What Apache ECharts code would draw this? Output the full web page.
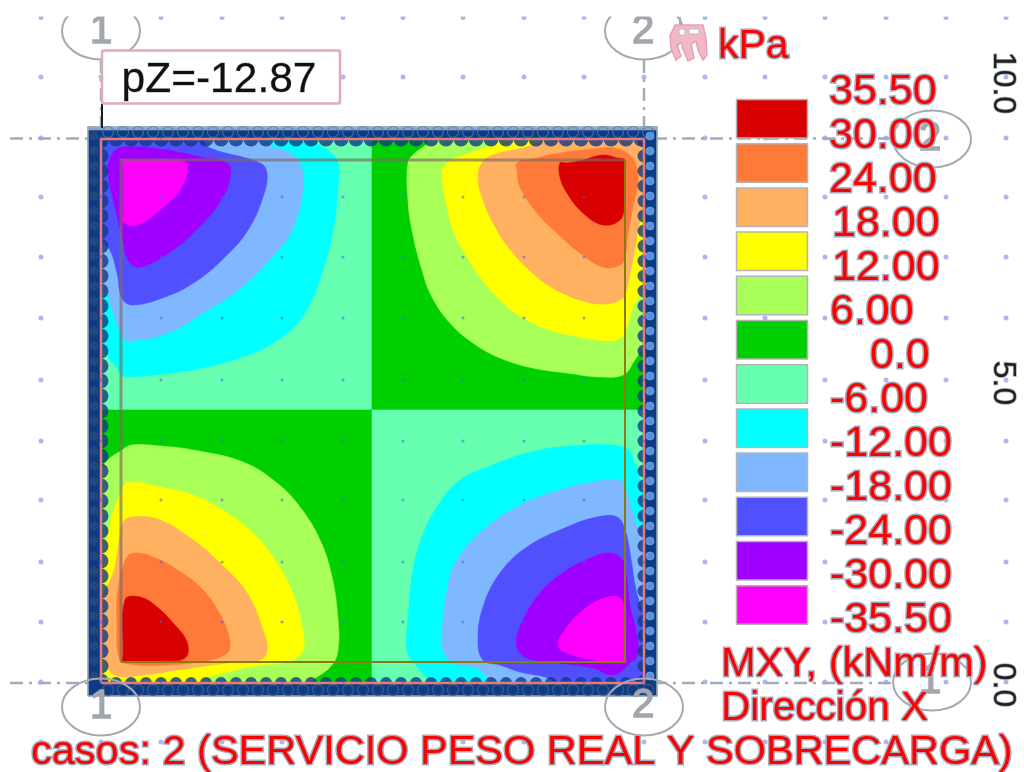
<!DOCTYPE html>
<html><head><meta charset="utf-8">
<script src="https://cdn.jsdelivr.net/npm/echarts@6/dist/echarts.min.js"></script>
<style>html,body{margin:0;padding:0;background:#fff}#c{width:1024px;height:772px;filter:blur(0.5px)}</style>
</head><body><div id="c"></div>
<script>
// Slab plan, in plot units along each axis (54.3 units = 1 m).
const levelLabels = ['35.50','30.00','24.00','18.00','12.00','6.00','0.0','-6.00','-12.00','-18.00','-24.00','-30.00','-35.50'];
const levelColors = ['#d80000','#ff7a38','#ffb060','#ffff00','#a8ff58','#00d000','#66ffb0','#00ffff','#80b8ff','#5050ff','#a000ff','#ff00ff'];
const legendTitle = 'kPa';
const resultTitle = ['MXY, (kNm/m)','Dirección X'];
const caseTitle = 'casos: 2 (SERVICIO PESO REAL Y SOBRECARGA)';
const probeLabel = 'pZ=-12.87';
const axisTicks = ['10.0','5.0','0.0'];

// Bands: index into levelColors
const quadrantTL = [[0,273],[271,273],[271,544],[0,544]];
const quadrantTR = [[271,273],[543,273],[543,544],[271,544]];
const quadrantBL = [[0,0],[271,0],[271,273],[0,273]];
const quadrantBR = [[271,0],[543,0],[543,273],[271,273]];

const trPos6 = [[327,544],[327,540],[314,530],[307,520],[307,483],[311,453],[321,413],[331,386],[349,360],[372,340],[399,325],[432,315],[466,310],[499,306],[522,308],[532,320],[543,343],[543,532],[543,544],[532,544]];
const trPos12 = [[404,544],[389,537],[369,530],[347,521],[341,510],[346,476],[352,453],[362,433],[379,406],[399,383],[422,365],[449,353],[479,346],[509,342],[519,345],[524,350],[531,373],[537,385],[543,393],[543,532],[543,544],[532,544]];
const trPos18 = [[459,544],[439,540],[422,535],[392,528],[381,520],[377,506],[382,483],[396,453],[412,430],[436,406],[459,391],[486,381],[506,379],[519,383],[524,388],[529,410],[534,436],[537,453],[543,483],[543,532],[543,544],[532,544]];
const trPos24 = [[416,513],[419,496],[436,470],[456,450],[479,430],[502,416],[519,418],[524,426],[527,450],[532,476],[537,503],[534,520],[526,530],[512,535],[492,534],[459,530],[431,524],[416,520]];
const trPos30 = [[459,520],[459,506],[466,490],[482,470],[502,458],[519,463],[523,476],[524,515],[524,523],[516,525],[502,528],[482,523],[466,520]];

const blPos6 = [[0,208],[4,220],[21,233],[31,238],[59,237],[92,233],[142,221],[176,200],[199,176],[219,143],[231,106],[237,63],[237,33],[231,18],[216,6],[204,0],[12,0],[0,0],[0,12]];
const blPos12 = [[0,133],[6,146],[12,170],[21,193],[27,201],[59,196],[92,188],[126,170],[152,150],[172,126],[189,96],[199,66],[202,33],[186,21],[159,18],[126,11],[106,5],[94,0],[12,0],[0,0],[0,12]];
const blPos18 = [[0,83],[7,98],[14,116],[22,160],[31,166],[59,163],[92,143],[119,120],[146,90],[162,53],[166,33],[159,23],[126,20],[76,13],[42,8],[14,8],[4,23],[0,43]];
const blPos24 = [[36,130],[26,126],[17,93],[16,56],[17,30],[24,20],[66,18],[109,23],[126,30],[129,40],[122,63],[102,93],[72,116],[52,126]];
const blPos30 = [[24,83],[39,86],[56,76],[72,60],[86,41],[84,25],[59,22],[30,21],[22,21],[22,30]];

const brNeg12 = [[524,236],[459,236],[419,228],[392,218],[359,203],[336,176],[321,146],[312,113],[307,63],[306,33],[317,15],[326,5],[328,0],[531,0],[543,0],[543,12],[543,193],[539,205],[532,223]];
const brNeg18 = [[519,203],[492,201],[452,191],[416,176],[382,153],[356,123],[346,93],[341,50],[342,33],[352,20],[376,15],[386,5],[388,0],[531,0],[543,0],[543,12],[543,153],[537,156],[531,173],[524,196]];
const brNeg24 = [[516,166],[496,166],[466,156],[426,136],[399,110],[382,76],[377,43],[382,23],[399,18],[419,11],[444,6],[459,0],[531,0],[543,0],[543,12],[543,63],[535,93],[529,130],[524,153]];
const brNeg30 = [[507,130],[492,126],[466,113],[439,90],[419,56],[416,36],[426,25],[459,20],[492,15],[512,8],[529,20],[537,30],[534,56],[529,76],[524,116],[519,126]];
const brNeg35 = [[507,86],[519,85],[524,73],[524,30],[524,21],[514,21],[492,23],[466,30],[457,38],[466,56],[486,76]];

const tlNeg12 = [[0,532],[0,544],[12,544],[211,544],[216,540],[236,523],[237,496],[232,453],[221,410],[204,370],[181,346],[147,328],[101,315],[61,309],[22,307],[16,315],[7,326],[0,340]];
const tlNeg18 = [[154,544],[169,537],[189,530],[199,520],[202,496],[191,453],[171,426],[141,396],[107,373],[67,350],[27,342],[22,346],[17,356],[9,380],[6,390],[0,398],[0,532],[0,544],[12,544]];
const tlNeg24 = [[99,544],[109,535],[159,520],[166,510],[162,486],[147,453],[124,426],[94,401],[64,386],[31,378],[21,385],[16,410],[9,433],[0,443],[0,532],[0,544],[12,544]];
const tlNeg30 = [[22,536],[66,533],[99,526],[126,520],[129,506],[122,486],[102,460],[72,433],[39,416],[27,423],[22,443],[14,476],[7,513],[12,530]];
const tlNeg35 = [[22,515],[22,523],[30,523],[84,521],[86,510],[79,493],[59,473],[36,458],[22,461],[22,470]];

const baseRegions = [[6,quadrantTL],[5,quadrantTR],[5,quadrantBL],[6,quadrantBR]];
const contourRegions = [
  [4,trPos6],[3,trPos12],[2,trPos18],[1,trPos24],[0,trPos30],
  [4,blPos6],[3,blPos12],[2,blPos18],[1,blPos24],[0,blPos30],
  [7,brNeg12],[8,brNeg18],[9,brNeg24],[10,brNeg30],[11,brNeg35],
  [7,tlNeg12],[8,tlNeg18],[9,tlNeg24],[10,tlNeg30],[11,tlNeg35]
];

// Reference grid dots
const dotColumns = [-60,0,60,121,181,242,302,362,423,483,543,604,664,724,785,845,905];
const dotRows = [665.5,606,545,486,426,365,303,242,183,121,61,1,-59];

// Structural lines
const axisLines = [
  [[-91,544.5],[792,544.5]], [[-91,0],[792,0]],
  [[0,623],[0,5]], [[543,623],[543,5]]
];
const slabOutline = [[-13,-13],[556,-13],[556,556],[-13,556]];
const topStrip = [[-13,556],[556,556],[556,553],[-13,553]];
const slabEdge = [[0,0],[543,0],[543,544],[0,544],[0,0]];
const innerTopLeft = [[20,21],[20,523],[524,523]];
const innerBottomRight = [[524,523],[524,21],[20,21]];
const edgeStops = [0,15,30,45,60,75,90,105,120,135,150,165,180,195,210,225,240,255,270,285,300,315,330,345,360,375,390,405,420,435,450,465,480,495,510,525,540];

const polygonSeries = (z, items, smooth) => ({
  type:'custom', coordinateSystem:'cartesian2d', z, silent:true, clip:false,
  data: items.map((_, i) => [i]),
  renderItem(p, api){
    const it = items[p.dataIndex];
    return {type:'polygon', shape:{points:it[0].map(q => api.coord(q)), smooth:smooth||0},
      style:{fill:it[1], stroke:it[1], lineWidth:0.6}};
  }
});
const lineSeries = (z, items, style) => ({
  type:'custom', coordinateSystem:'cartesian2d', z, silent:true, clip:false,
  data: items.map((_, i) => [i]),
  renderItem(p, api){
    return {type:'polyline', shape:{points:items[p.dataIndex].map(q => api.coord(q))},
      style:Object.assign({fill:null}, style)};
  }
});
const dotSeries = (z, data, size, style) => ({
  type:'scatter', z, silent:true, clip:false, animation:false,
  symbol:'circle', symbolSize:size, data, itemStyle:style
});
const cross = (a, b) => { const r = []; a.forEach(x => b.forEach(y => r.push([x,y]))); return r; };
const inSlab = d => d[0] >= 0 && d[0] <= 543 && d[1] >= 0 && d[1] <= 545;
const allDots = cross(dotColumns, dotRows);

const navy = '#0d3c84';
const series = [
  lineSeries(1, axisLines, {stroke:'#a2abbb', lineWidth:2.5, lineDash:[13,6,3,6]}),
  dotSeries(1, allDots.filter(d => !inSlab(d)), 5, {color:'#9aa6e6'}),
  polygonSeries(2, [[slabOutline, navy], [topStrip, '#8ea4c4']]),
  lineSeries(2.5, [slabOutline.concat([slabOutline[0]])], {stroke:'#9fadb9', lineWidth:1.5}),
  polygonSeries(3, baseRegions.map(r => [r[1], levelColors[r[0]]])),
  polygonSeries(3.2, contourRegions.map(r => [r[1], levelColors[r[0]]]), 0.4),
  dotSeries(4, edgeStops.map(u => [u,544]), 15, {color:navy}),
  dotSeries(4, edgeStops.map(u => [u,0]), 12, {color:navy}),
  dotSeries(4, edgeStops.map(v => [0,v+2]), 15, {color:navy}),
  dotSeries(4, edgeStops.map(v => [543,v+2]), 13, {color:navy}),
  dotSeries(4.5, edgeStops.map(u => [u+7,551]), 11, {color:'none', borderColor:'#4d78b8', borderWidth:1.2}),
  dotSeries(4.5, edgeStops.map(v => [549,v+7]), 8, {color:'#6ea6ee', borderColor:'#6ea6ee', borderWidth:1}),
  dotSeries(4.5, edgeStops.map(u => [u+7,-7]), 11, {color:'none', borderColor:'#4a5c82', borderWidth:1.4}),
  dotSeries(4.5, edgeStops.map(v => [-7,v+7]), 9, {color:'#2b4a7e'}),
  lineSeries(5, [slabEdge], {stroke:'#e87a7a', lineWidth:2.5}),
  lineSeries(6, [innerTopLeft], {stroke:'rgba(128,105,95,0.65)', lineWidth:3}),
  lineSeries(6, [innerBottomRight], {stroke:'#8a7a10', lineWidth:2}),
  dotSeries(7, allDots.filter(inSlab), 3, {color:'rgba(70,100,230,0.7)'})
];

// Annotation layout
const RED = '#ff0000', HALO = '#a6aabd', GREY = '#a4a9b3';
const redText = (text, x, y, size, align) => ({type:'text', x, y, z:30, silent:true, style:{
  text, fill:RED, stroke:HALO, lineWidth:3, font:size+'px "Liberation Sans", Arial, sans-serif',
  textAlign:align||'left', textVerticalAlign:'middle'}});
const greyText = (text, x, y) => ({type:'text', x, y, z:20, silent:true, style:{
  text, fill:'#a2a6ae', stroke:'#a2a6ae', lineWidth:1.5, font:'40px "Liberation Sans", Arial, sans-serif', textAlign:'center', textVerticalAlign:'middle'}});
const ring = (cx, cy) => ({type:'ellipse', z:19, silent:true, shape:{cx, cy, rx:39, ry:28.5}, style:{fill:null, stroke:GREY, lineWidth:2}});

const legendX = [829,829,829,832,832,830,870,830,830,830,830,830,830];
const graphics = [];
[[101,31],[644,31],[101,707],[644,707],[932,139],[932,682]].forEach(c => graphics.push(ring(c[0],c[1])));
[['1',101,32],['2',643,32],['1',101,707],['2',643,706],['2',930,139],['1',930,682]].forEach(t => graphics.push(greyText(t[0],t[1],t[2])));
graphics.push({type:'rect', z:21, silent:true, shape:{x:0,y:0,width:1024,height:16.5}, style:{fill:'#fff'}});

// support structure icon
graphics.push({type:'line', z:22, silent:true, shape:{x1:680,y1:17,x2:680,y2:26}, style:{stroke:GREY,lineWidth:2}});
graphics.push({type:'polygon', z:22, silent:true, shape:{points:[[675,25],[703,25],[706,38],[707,55],[703,60],[698,50],[696,41],[691,44],[694,58],[688,61],[683,49],[681,42],[677,45],[681,56],[676,60],[671,48],[670,36]]},
  style:{fill:'#f2b8c6', stroke:'#e8a0b4', lineWidth:1.5}});
graphics.push({type:'rect', z:23, silent:true, shape:{x:679,y:29,width:6,height:6}, style:{fill:'#fff', stroke:'#b6bcc6', lineWidth:1}});
graphics.push({type:'rect', z:23, silent:true, shape:{x:689,y:29,width:10,height:5}, style:{fill:'#fff', stroke:'#b6bcc6', lineWidth:1}});

// probe box
graphics.push({type:'line', z:24, silent:true, shape:{x1:102,y1:104,x2:102,y2:128}, style:{stroke:'#1c1c1c',lineWidth:2}});
graphics.push({type:'rect', z:24, silent:true, shape:{x:102,y:50.5,width:238,height:53,r:2}, style:{fill:'#fff', stroke:'#e2aab8', lineWidth:2.5}});
graphics.push({type:'text', x:219, y:80, z:25, silent:true, style:{text:probeLabel, fill:'#111', stroke:'#a8adb8', lineWidth:0.8,
  font:'42.5px "Liberation Sans", Arial, sans-serif', textAlign:'center', textVerticalAlign:'middle'}});

// legend swatches and values
levelColors.forEach((c, i) => graphics.push({type:'rect', z:26, silent:true,
  shape:{x:736.5, y:99.5+44.2*i, width:71, height:38.5}, style:{fill:c, stroke:'#b4b4b4', lineWidth:1.5}}));
levelLabels.forEach((t, i) => graphics.push(redText(t, legendX[i], 92+44*i, 43)));
graphics.push(redText(legendTitle, 718, 47, 41));
graphics.push(redText(resultTitle[0], 721, 665, 41.5));
graphics.push(redText(resultTitle[1], 721, 709, 40.5));
graphics.push(redText(caseTitle, 31, 753, 41.5));

// rotated axis values
[[1003,83],[1003,383],[1003,685]].forEach((p, i) => graphics.push({type:'text', x:p[0], y:p[1], rotation:-Math.PI/2, z:27, silent:true, style:{
  text:axisTicks[i], fill:'#222', stroke:'#a8adb8', lineWidth:1.5, font:'32px "Liberation Sans", Arial, sans-serif',
  textAlign:'center', textVerticalAlign:'middle'}}));

const chart = echarts.init(document.getElementById('c'), null, {renderer:'canvas'});
chart.setOption({
  animation:false, backgroundColor:'#fff',
  grid:{left:101, top:139, width:543, height:544, containLabel:false},
  xAxis:{type:'value', min:0, max:543, show:false},
  yAxis:{type:'value', min:0, max:544, show:false},
  series,
  graphic:{elements:graphics}
});
</script></body></html>
